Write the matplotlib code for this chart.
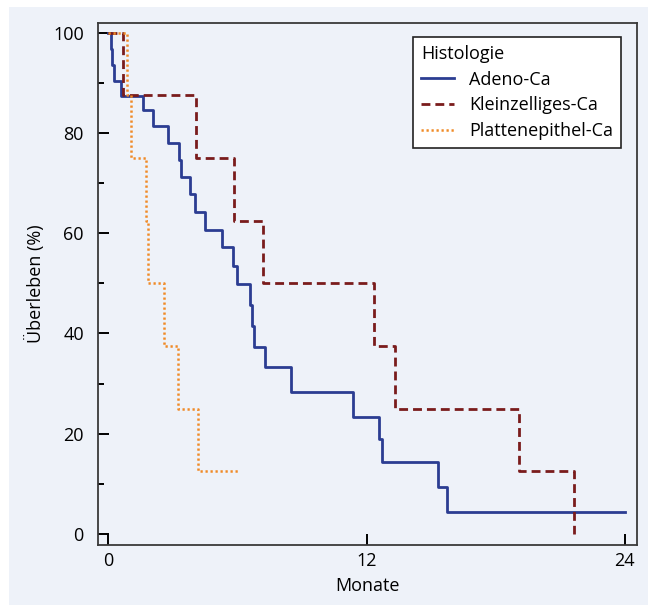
import numpy as np
import matplotlib
matplotlib.use("Agg")
import matplotlib.pyplot as plt
from matplotlib.patches import Rectangle

# Kaplan-Meier Kurven (Monate, Ueberleben in %)
adeno_t = [0, 0.14, 0.18, 0.28, 0.6, 1.6, 2.06, 2.76, 3.3, 3.36, 3.78, 4.03,
           4.5, 5.28, 5.8, 5.98, 6.6, 6.68, 6.79, 7.3, 8.47, 11.36, 12.57,
           12.73, 15.33, 15.75, 24]
adeno_s = [100, 96.8, 93.6, 90.4, 87.4, 84.5, 81.3, 78.0, 74.7, 71.3, 67.9,
           64.3, 60.7, 57.2, 53.5, 49.9, 45.7, 41.5, 37.4, 33.3, 28.4, 23.4,
           18.9, 14.4, 9.4, 4.45, 4.45]

klein_t = [0, 0.68, 4.09, 5.86, 7.18, 12.34, 13.3, 19.08, 21.64]
klein_s = [100, 87.5, 75, 62.5, 50, 37.5, 25, 12.5, 0]

platte_t = [0, 0.87, 1.05, 1.75, 1.83, 2.57, 3.22, 4.17, 6.06]
platte_s = [100, 87.5, 75, 62.5, 50, 37.5, 25, 12.5, 12.5]

labels = ["Adeno-Ca", "Kleinzelliges-Ca", "Plattenepithel-Ca"]
xticks = [0, 12, 24]

plt.rcParams['font.family'] = ['Open Sans', 'DejaVu Sans']
bg = '#eef2f9'

fig = plt.figure(figsize=(6.48, 6.05), dpi=100)
fig.patch.set_facecolor('white')
fig.patches.append(Rectangle((9 / 648, 0), 1 - 9 / 648, 1 - 7 / 605,
                             transform=fig.transFigure, facecolor=bg,
                             edgecolor='none', zorder=-10))

ax = fig.add_axes([97.7 / 648, 1 - 545 / 605, 539 / 648, 522.3 / 605])
ax.set_facecolor(bg)

ax.step(adeno_t, adeno_s, where='post', color='#2b3d92', lw=2.0,
        label=labels[0], zorder=3)
ax.step(klein_t, klein_s, where='post', color='#7a1c1c', lw=2.0,
        linestyle=(0, (3.2, 1.8)), label=labels[1], zorder=4)
ax.step(platte_t, platte_s, where='post', color='#f08a26', lw=1.8,
        linestyle=(0, (0.9, 1.1)), label=labels[2], zorder=5)

ax.set_xlim(-0.5, 24.56)
ax.set_ylim(-2.2, 102)
ax.set_xticks(xticks)
ax.set_yticks(np.arange(0, 101, 20))
ax.set_yticks(np.arange(0, 101, 10), minor=True)
ax.tick_params(axis='both', which='major', direction='in', length=8,
               width=1.4, labelsize=13, color='black')
ax.tick_params(axis='y', which='minor', direction='in', length=4.5,
               width=1.4, color='black')
ax.tick_params(axis='y', pad=10)
ax.tick_params(axis='x', pad=5)

for sp in ax.spines.values():
    sp.set_color('#3a3a3a')
    sp.set_linewidth(1.3)

ax.set_xlabel('Monate', fontsize=13, labelpad=5)
ax.set_ylabel('Überleben (%)', fontsize=13, labelpad=6)

leg = ax.legend(title='Histologie', loc='upper right',
                bbox_to_anchor=(0.971, 0.9726), borderaxespad=0,
                fontsize=13, title_fontsize=13, alignment='left',
                fancybox=False, framealpha=1, edgecolor='#222222',
                handlelength=1.8, handletextpad=0.85, borderpad=0.45,
                labelspacing=0.42)
leg.get_frame().set_linewidth(1.2)

fig.savefig('out.png', dpi=100, facecolor=fig.get_facecolor())
